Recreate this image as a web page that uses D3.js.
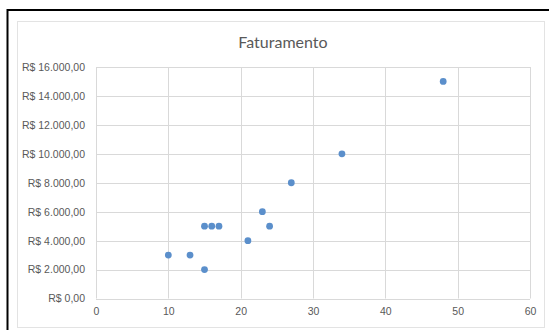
<!DOCTYPE html>
<html>
<head>
<meta charset="utf-8">
<script src="https://cdn.jsdelivr.net/npm/d3@7"></script>
<style>
  html, body { margin: 0; padding: 0; background: #fff; }
  svg { display: block; font-family: Lato, "Open Sans", sans-serif; }
</style>
</head>
<body>
<svg id="chart" width="549" height="330"></svg>
<script>
// Quantidade (x) e faturamento em reais (y)
const quantidade = [10, 13, 15, 15, 16, 17, 21, 23, 24, 27, 34, 48];
const faturamento = [3000, 3000, 2000, 5000, 5000, 5000, 4000, 6000, 5000, 8000, 10000, 15000];
const xTicks = [0, 10, 20, 30, 40, 50, 60];
const yTicks = [0, 2000, 4000, 6000, 8000, 10000, 12000, 14000, 16000];
const titulo = "Faturamento";

const svg = d3.select("#chart");
const W = 549, H = 330;

// Outer frame (top and left black edges) and chart area border
svg.append("rect").attr("x", 0).attr("y", 0).attr("width", W).attr("height", H).attr("fill", "#fff");
svg.append("rect")
  .attr("x", 17.5).attr("y", 21.5).attr("width", 527).attr("height", 306)
  .attr("fill", "#fff").attr("stroke", "#e3e3e3").attr("stroke-width", 1);
svg.append("line").attr("x1", 7).attr("x2", W).attr("y1", 10).attr("y2", 10)
  .attr("stroke", "#000").attr("stroke-width", 2);
svg.append("line").attr("x1", 7.5).attr("x2", 7.5).attr("y1", 9).attr("y2", H)
  .attr("stroke", "#000").attr("stroke-width", 2);

const plot = { left: 96, right: 530, top: 67, bottom: 298.5 };

const x = d3.scaleLinear().domain([0, 60]).range([plot.left, plot.right]);
const y = d3.scaleLinear().domain([0, 16000]).range([plot.bottom, plot.top]);

const fmtBRL = v => "R$ " + d3.format(",.2f")(v).replace(/,/g, "#").replace(/\./g, ",").replace(/#/g, ".");

// Gridlines
const grid = svg.append("g");
grid.selectAll("line.h").data(yTicks).join("line")
  .attr("x1", plot.left).attr("x2", plot.right)
  .attr("y1", d => Math.round(y(d)) + 0.5).attr("y2", d => Math.round(y(d)) + 0.5)
  .attr("stroke", "#d9d9d9").attr("stroke-width", 1);
grid.selectAll("line.v").data(xTicks).join("line")
  .attr("y1", plot.top).attr("y2", plot.bottom)
  .attr("x1", d => Math.round(x(d)) + 0.5).attr("x2", d => Math.round(x(d)) + 0.5)
  .attr("stroke", "#d9d9d9").attr("stroke-width", 1);

// Axes (labels only, Excel style)
const yAxis = d3.axisLeft(y).tickValues(yTicks).tickFormat(fmtBRL).tickSize(0).tickPadding(11);
const gy = svg.append("g").attr("transform", `translate(${plot.left},0)`).call(yAxis);
gy.select(".domain").remove();
gy.selectAll("text").attr("fill", "#595959").style("font-size", "10.5px");

const xAxis = d3.axisBottom(x).tickValues(xTicks).tickSize(0).tickPadding(9);
const gx = svg.append("g").attr("transform", `translate(0,${plot.bottom})`).call(xAxis);
gx.select(".domain").remove();
gx.selectAll("text").attr("fill", "#595959").style("font-size", "10.5px");

// Title
svg.append("text")
  .attr("x", 283).attr("y", 48)
  .attr("text-anchor", "middle")
  .attr("fill", "#595959")
  .style("font-size", "16px")
  .text(titulo);

// Points
const pontos = quantidade.map((q, i) => ({ q, f: faturamento[i] }));
svg.append("g").selectAll("circle").data(pontos).join("circle")
  .attr("cx", d => x(d.q)).attr("cy", d => y(d.f))
  .attr("r", 3.4)
  .attr("fill", "#5b8fcb");
</script>
</body>
</html>
